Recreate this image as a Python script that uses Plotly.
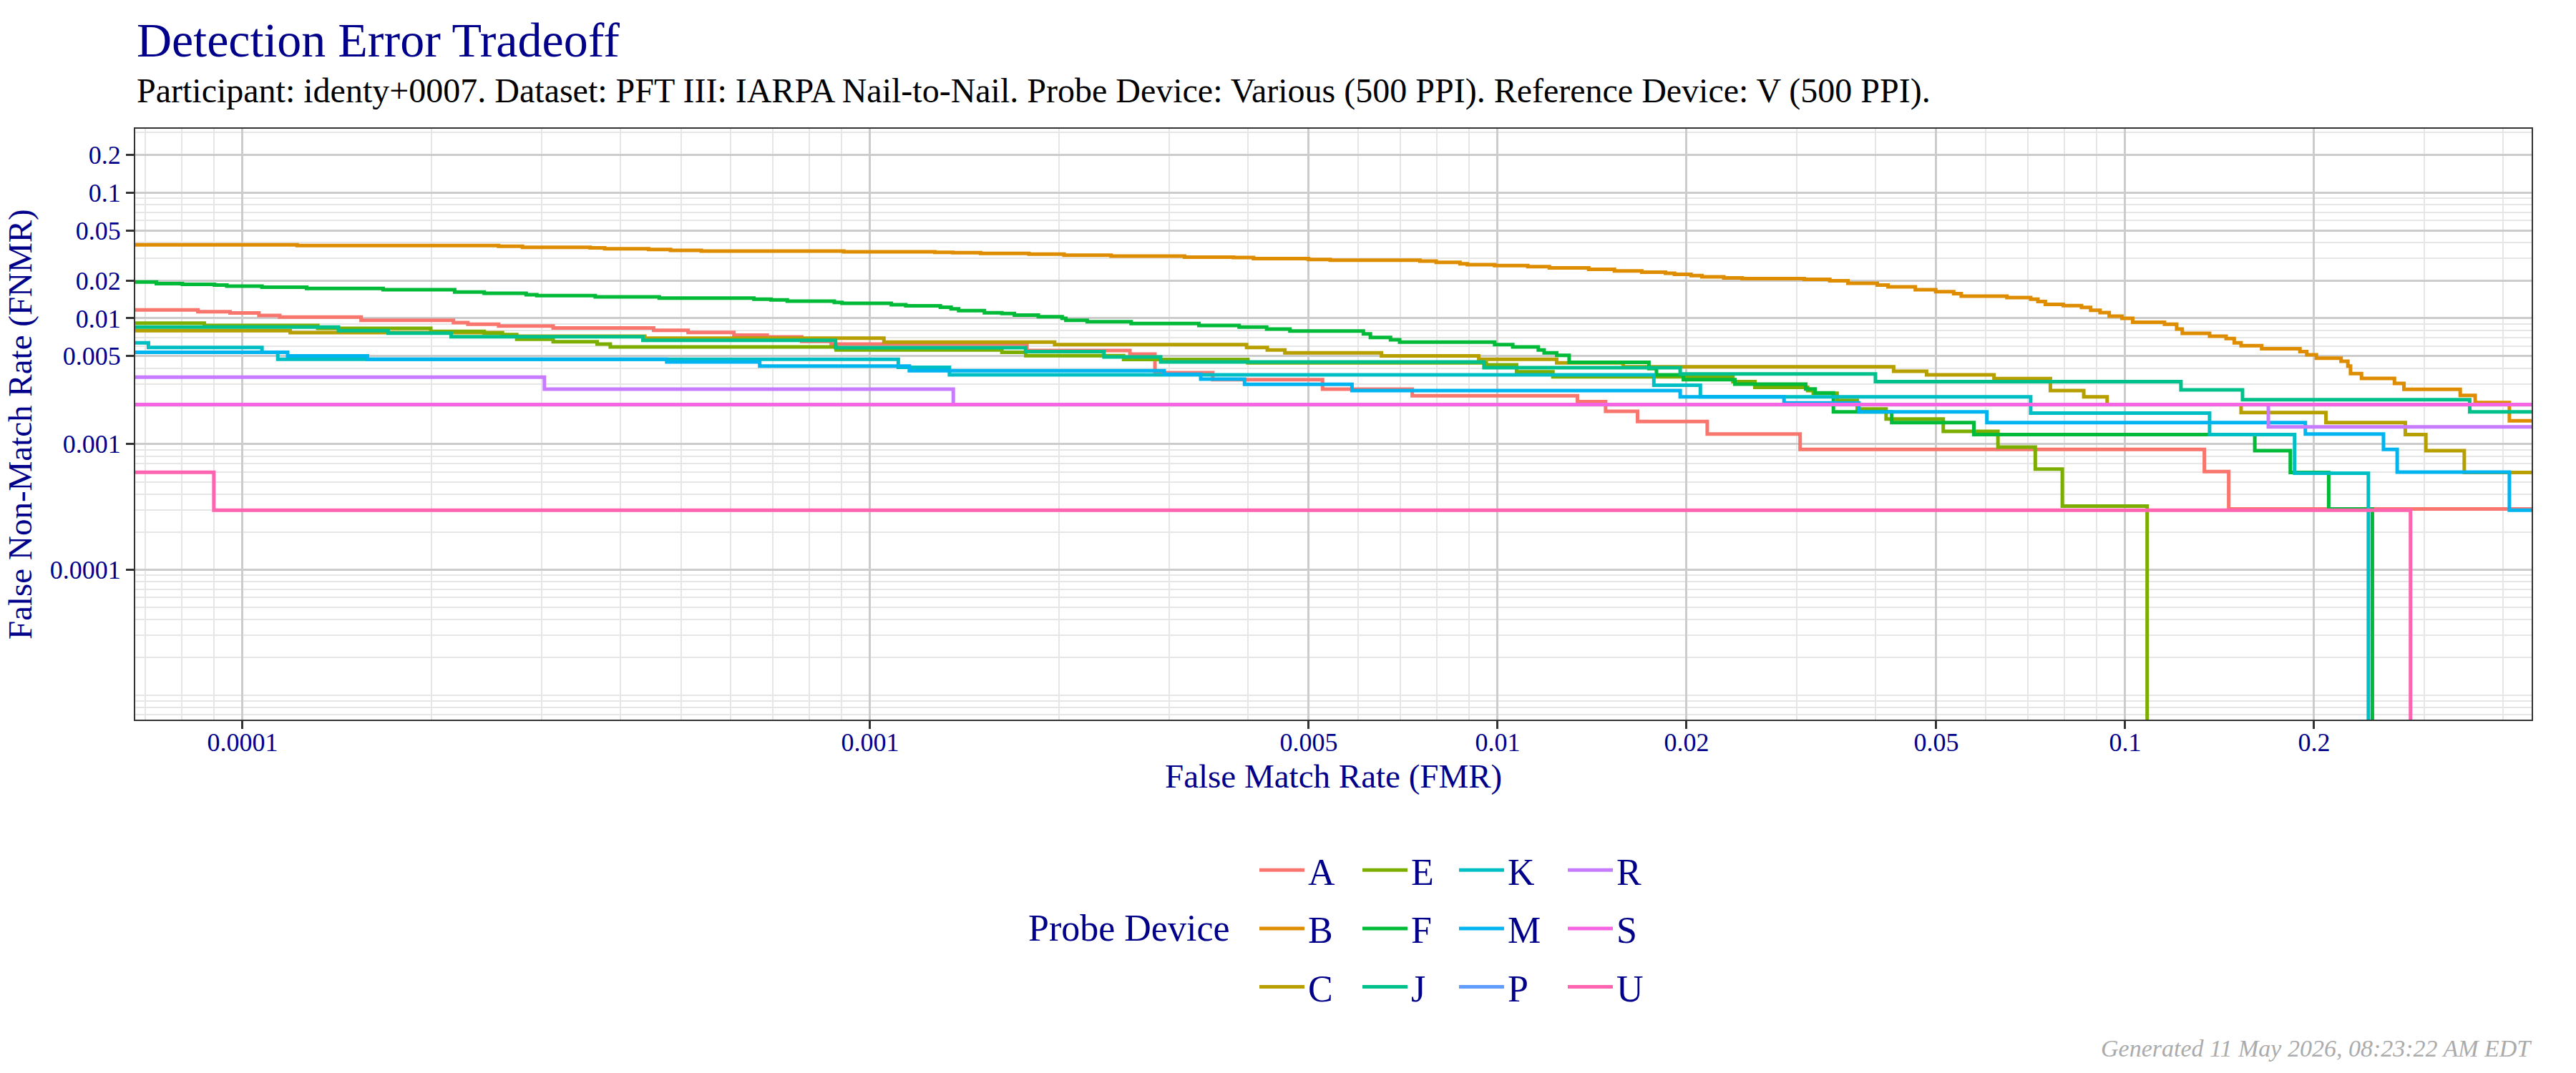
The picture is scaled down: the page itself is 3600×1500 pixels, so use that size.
import plotly.graph_objects as go

# ---------------- data ----------------
devices = ["A", "B", "C", "E", "F", "J", "K", "M", "P", "R", "S", "U"]
colors = ["#F8766D", "#DE8C00", "#B79F00", "#7CAE00", "#00BA38", "#00C08B",
          "#00BFC4", "#00B4F0", "#619CFF", "#C77CFF", "#F564E3", "#FF64B0"]

fmr_A = [6.0e-5, 8.49e-5, 9.55e-5, 1.062e-4, 1.146e-4, 1.545e-4, 2.168e-4, 2.286e-4, 2.559e-4, 3.126e-4,
         4.519e-4, 5.129e-4, 6.067e-4, 6.855e-4, 7.78e-4, 8.67e-4, 1.778e-3, 2.594e-3, 2.844e-3, 3.516e-3,
         5.26e-3, 7.31e-3, 1.340e-2, 1.486e-2, 1.671e-2, 2.158e-2, 3.034e-2, 0.1337, 0.1462, 0.5]
fnmr_A = [0.01167, 0.01130, 0.01102, 0.01054, 0.01023, 0.00966, 0.00925, 0.00897, 0.00869, 0.00839,
          0.00804, 0.00773, 0.00736, 0.00711, 0.00655, 0.00624, 0.00555, 0.00519, 0.00369, 0.00325,
          0.00273, 0.00242, 0.00217, 0.00182, 0.00151, 0.00120, 0.000905, 0.000603, 0.000304, 0.000304]

fmr_B = [6.0e-5, 1.222e-4, 2.559e-4, 2.793e-4, 3.581e-4, 3.776e-4, 4.436e-4, 4.808e-4, 5.383e-4, 9.08e-4,
         1.268e-3, 1.355e-3, 1.500e-3, 1.791e-3, 2.037e-3, 2.421e-3, 3.170e-3, 3.793e-3, 4.083e-3, 4.994e-3,
         5.41e-3, 7.52e-3, 7.98e-3, 8.71e-3, 8.95e-3, 9.89e-3, 1.117e-2, 1.209e-2, 1.397e-2, 1.535e-2,
         1.697e-2, 1.851e-2, 1.914e-2, 2.033e-2, 2.116e-2, 2.293e-2, 2.453e-2, 3.080e-2, 3.383e-2, 3.616e-2,
         4.027e-2, 4.19e-2, 4.63e-2, 4.99e-2, 5.33e-2, 5.48e-2, 6.48e-2, 7.07e-2, 7.26e-2, 7.46e-2,
         7.97e-2, 8.52e-2, 8.81e-2, 9.12e-2, 9.43e-2, 9.88e-2, 0.1028, 0.1155, 0.1208, 0.1233,
         0.1363, 0.1448, 0.1492, 0.1530, 0.1650, 0.1899, 0.1947, 0.2017, 0.2208, 0.2264,
         0.2286, 0.2380, 0.2686, 0.2781, 0.3419, 0.3612, 0.4095, 0.5]
fnmr_B = [0.0384, 0.0379, 0.0374, 0.0367, 0.0363, 0.0358, 0.0353, 0.0347, 0.0343, 0.0338,
          0.0335, 0.0333, 0.0328, 0.0324, 0.0318, 0.0313, 0.0307, 0.0305, 0.0299, 0.0294,
          0.0290, 0.0285, 0.0279, 0.0272, 0.0267, 0.0263, 0.0258, 0.0252, 0.0245, 0.0238,
          0.0233, 0.0228, 0.0224, 0.0219, 0.0214, 0.0210, 0.0207, 0.0204, 0.0199, 0.0190,
          0.0184, 0.0178, 0.0169, 0.0163, 0.0157, 0.0150, 0.0146, 0.0142, 0.0136, 0.0129,
          0.0126, 0.0122, 0.0116, 0.0111, 0.0104, 0.0100, 0.00929, 0.00897, 0.00821, 0.00760,
          0.00721, 0.00690, 0.00638, 0.00605, 0.00572, 0.00543, 0.00513, 0.00482, 0.00456, 0.00417,
          0.00363, 0.00333, 0.00303, 0.00272, 0.00244, 0.00214, 0.00153, 0.00153]

fmr_C = [6.0e-5, 1.191e-4, 2.594e-4, 4.375e-4, 1.052e-3, 1.968e-3, 3.981e-3, 4.295e-3, 4.581e-3, 6.53e-3,
         9.33e-3, 1.242e-2, 1.585e-2, 4.276e-2, 4.825e-2, 6.18e-2, 7.60e-2, 8.59e-2, 9.36e-2, 0.1530,
         0.2089, 0.2795, 0.3014, 0.3470, 0.5]
fnmr_C = [0.00797, 0.00770, 0.00721, 0.00696, 0.00646, 0.00618, 0.00587, 0.00559, 0.00531, 0.00502,
          0.00472, 0.00442, 0.00412, 0.00379, 0.00355, 0.00331, 0.00266, 0.00237, 0.00206, 0.00178,
          0.00148, 0.00119, 0.000886, 0.000593, 0.000593]

fmr_E = [6.0e-5, 8.69e-5, 1.318e-4, 1.995e-4, 2.427e-4, 2.594e-4, 2.735e-4, 3.126e-4, 3.673e-4, 3.855e-4,
         8.83e-4, 1.622e-3, 1.770e-3, 2.535e-3, 3.999e-3, 9.59e-3, 1.072e-2, 1.225e-2, 2.371e-2, 2.570e-2,
         3.119e-2, 3.184e-2, 3.475e-2, 3.741e-2, 4.159e-2, 5.13e-2, 6.27e-2, 7.19e-2, 7.94e-2, 0.1084]
fnmr_E = [0.00916, 0.00877, 0.00832, 0.00787, 0.00762, 0.00743, 0.00681, 0.00652, 0.00624, 0.00592,
          0.00560, 0.00536, 0.00504, 0.00471, 0.00442, 0.00427, 0.00376, 0.00343, 0.00314, 0.00282,
          0.00266, 0.00253, 0.00222, 0.00190, 0.00158, 0.00126, 0.000946, 0.000631, 0.000321, 0]

fmr_F = [6.0e-5, 7.29e-5, 8.02e-5, 9.02e-5, 9.44e-5, 1.074e-4, 1.265e-4, 1.675e-4, 2.178e-4, 2.427e-4,
         2.831e-4, 2.944e-4, 3.648e-4, 4.613e-4, 6.53e-4, 6.95e-4, 7.38e-4, 8.77e-4, 9.02e-4, 1.081e-3,
         1.140e-3, 1.294e-3, 1.346e-3, 1.384e-3, 1.521e-3, 1.622e-3, 1.698e-3, 1.854e-3, 2.023e-3, 2.051e-3,
         2.218e-3, 2.606e-3, 3.342e-3, 3.873e-3, 4.285e-3, 4.667e-3, 6.11e-3, 6.27e-3, 6.75e-3, 6.98e-3,
         9.89e-3, 1.057e-2, 1.161e-2, 1.186e-2, 1.242e-2, 1.300e-2, 1.742e-2, 1.791e-2, 1.977e-2, 2.388e-2,
         3.097e-2, 3.206e-2, 3.428e-2, 4.246e-2, 5.74e-2, 0.1609, 0.1833, 0.2110, 0.2477]
fnmr_F = [0.01943, 0.01885, 0.01861, 0.01837, 0.01805, 0.01766, 0.01727, 0.01690, 0.01618, 0.01581,
          0.01542, 0.01514, 0.01483, 0.01449, 0.01419, 0.01400, 0.01371, 0.01340, 0.01315, 0.01282,
          0.01259, 0.01227, 0.01191, 0.01151, 0.01107, 0.01091, 0.01059, 0.01030, 0.01000, 0.00966,
          0.00938, 0.00908, 0.00877, 0.00851, 0.00822, 0.00793, 0.00753, 0.00705, 0.00675, 0.00646,
          0.00618, 0.00592, 0.00560, 0.00531, 0.00508, 0.00446, 0.00398, 0.00355, 0.00325, 0.00299,
          0.00274, 0.00255, 0.00180, 0.00148, 0.00119, 0.000885, 0.000593, 0.000304, 0]

fmr_J = [6.0e-5, 1.422e-4, 1.706e-4, 2.150e-4, 4.345e-4, 8.81e-4, 1.769e-3, 2.359e-3, 2.904e-3, 9.51e-3,
         1.954e-2, 4.000e-2, 0.1227, 0.1538, 0.3540, 0.5]
fnmr_J = [0.00851, 0.00797, 0.00763, 0.00714, 0.00669, 0.00584, 0.00543, 0.00493, 0.00450, 0.00405,
          0.00361, 0.00314, 0.00270, 0.00225, 0.00180, 0.00180]

fmr_K = [6.0e-5, 7.08e-5, 1.074e-4, 1.138e-4, 1.109e-3, 1.338e-3, 1.774e-2, 2.104e-2, 7.07e-2, 0.1363,
         0.1862, 0.2441]
fnmr_K = [0.00638, 0.00587, 0.00536, 0.00472, 0.00408, 0.00355, 0.00294, 0.00237, 0.00176, 0.00119,
          0.000585, 0]

fmr_M = [6.0e-5, 1.180e-4, 1.581e-4, 4.742e-4, 6.67e-4, 1.155e-3, 2.942e-3, 3.364e-3, 3.951e-3, 5.86e-3,
         1.954e-2, 2.860e-2, 3.765e-2, 6.02e-2, 0.1937, 0.2580, 0.2713, 0.4095, 0.5]
fnmr_M = [0.00536, 0.00502, 0.00472, 0.00450, 0.00417, 0.00383, 0.00358, 0.00328, 0.00298, 0.00266,
          0.00237, 0.00212, 0.00180, 0.00148, 0.00120, 0.000905, 0.000598, 0.000297, 0.000297]

fmr_P = [6.0e-5, 0.5]
fnmr_P = [0.00206, 0.00206]

fmr_R = [6.0e-5, 3.027e-4, 1.357e-3, 0.1691, 0.5]
fnmr_R = [0.00340, 0.00273, 0.00206, 0.00137, 0.00137]

fmr_S = [6.0e-5, 0.5]
fnmr_S = [0.00206, 0.00206]

fmr_U = [6.0e-5, 9.00e-5, 0.2849]
fnmr_U = [0.000595, 0.000297, 0]

tick_vals = [0.0001, 0.001, 0.005, 0.01, 0.02, 0.05, 0.1, 0.2]
tick_text = ["0.0001", "0.001", "0.005", "0.01", "0.02", "0.05", "0.1", "0.2"]

title_text = "Detection Error Tradeoff"
subtitle_text = ("Participant: identy+0007. Dataset: PFT III: IARPA Nail-to-Nail. "
                 "Probe Device: Various (500 PPI). Reference Device: V (500 PPI).")
x_title = "False Match Rate (FMR)"
y_title = "False Non-Match Rate (FNMR)"
legend_title = "Probe Device"
footnote = "Generated 11 May 2026, 08:23:22 AM EDT"

# ---------------- styling ----------------
FONT = "Liberation Serif"
NAVY = "#00008B"
series = {
    "A": (fmr_A, fnmr_A), "B": (fmr_B, fnmr_B), "C": (fmr_C, fnmr_C), "E": (fmr_E, fnmr_E),
    "F": (fmr_F, fnmr_F), "J": (fmr_J, fnmr_J), "K": (fmr_K, fnmr_K), "M": (fmr_M, fnmr_M),
    "P": (fmr_P, fnmr_P), "R": (fmr_R, fnmr_R), "S": (fmr_S, fnmr_S), "U": (fmr_U, fnmr_U),
}
legend_ids = ["legend", "legend2", "legend3", "legend4"]
ZERO_FLOOR = 1e-9  # FNMR of 0 cannot be shown on a log axis: drawn below the panel

fig = go.Figure()
for i, (dev, col) in enumerate(zip(devices, colors)):
    xs, ys = series[dev]
    ys_plot = [v if v > 0 else ZERO_FLOOR for v in ys]
    fig.add_trace(go.Scatter(
        x=xs, y=ys_plot, mode="lines", name=dev,
        line=dict(color=col, width=5, shape="hv"),
        legend=legend_ids[i // 3], legendgroup=dev, hoverinfo="skip",
    ))

minor_vals = [k * 10.0 ** n for n in range(-7, 1) for k in range(1, 10)]
minor_vals = [v for v in minor_vals if all(abs(v - t) / t > 1e-6 for t in tick_vals)]

axis_common = dict(
    type="log", tickvals=tick_vals, ticktext=tick_text,
    ticks="outside", ticklen=11, tickwidth=2.5, tickcolor="#333333",
    tickfont=dict(family=FONT, size=36, color=NAVY),
    showgrid=True, gridcolor="#cccccc", gridwidth=2.5,
    minor=dict(tickvals=minor_vals, showgrid=True, gridcolor="#e6e6e6", gridwidth=1.6, ticks=""),
    showline=True, linecolor="#333333", linewidth=2, mirror=True, zeroline=False,
)
fig.update_xaxes(range=[-4.171, -0.3523], ticklabelstandoff=-12, **axis_common)
fig.update_yaxes(range=[-5.193, -0.4918], **axis_common)

leg_common = dict(
    orientation="v", yanchor="middle", y=-0.3535, xanchor="left",
    font=dict(family=FONT, size=52, color=NAVY), itemwidth=63, tracegroupgap=11,
    bgcolor="rgba(0,0,0,0)", borderwidth=0,
)
legend_x = [0.4676, 0.5106, 0.5509, 0.5963]

fig.update_layout(
    width=3600, height=1500,
    margin=dict(l=189, r=62, t=180, b=494),
    paper_bgcolor="white", plot_bgcolor="white",
    showlegend=True,
    legend=dict(x=legend_x[0], **leg_common),
    legend2=dict(x=legend_x[1], **leg_common),
    legend3=dict(x=legend_x[2], **leg_common),
    legend4=dict(x=legend_x[3], **leg_common),
    annotations=[
        dict(text=title_text, x=0, y=1.1501, xref="paper", yref="paper", xanchor="left", yanchor="middle",
             showarrow=False, font=dict(family=FONT, size=68, color=NAVY)),
        dict(text=subtitle_text, x=0, y=1.0636, xref="paper", yref="paper", xanchor="left", yanchor="middle",
             showarrow=False, font=dict(family=FONT, size=48, color="black")),
        dict(text=x_title, x=0.5, y=-0.0956, xref="paper", yref="paper", xanchor="center", yanchor="middle",
             showarrow=False, font=dict(family=FONT, size=47, color=NAVY)),
        dict(text=y_title, x=-0.04807, y=0.5, xref="paper", yref="paper", xanchor="center", yanchor="middle",
             textangle=-90, showarrow=False, font=dict(family=FONT, size=47, color=NAVY)),
        dict(text=legend_title, x=0.4575, y=-0.3535, xref="paper", yref="paper", xanchor="right",
             yanchor="middle", showarrow=False, font=dict(family=FONT, size=52, color=NAVY)),
        dict(text="<i>" + footnote + "</i>", x=1.0006, y=-0.5569, xref="paper", yref="paper",
             xanchor="right", yanchor="middle", showarrow=False,
             font=dict(family=FONT, size=34, color="#ABABAB")),
    ],
)

fig.write_html("out.html")
